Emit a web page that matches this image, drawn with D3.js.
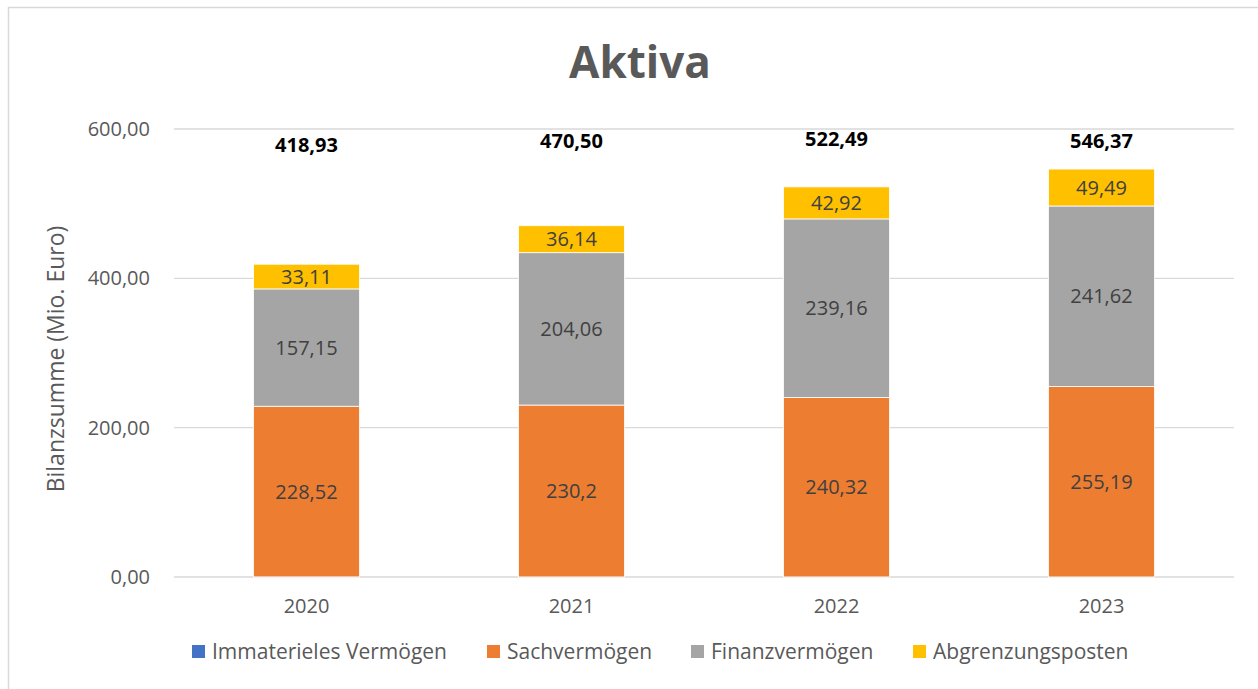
<!DOCTYPE html>
<html>
<head>
<meta charset="utf-8">
<script src="https://cdn.jsdelivr.net/npm/d3@7"></script>
<style>
  body { margin: 0; background: #fff; overflow: hidden; }
  text { font-family: "Open Sans", "Noto Sans", sans-serif; }
</style>
</head>
<body>
<script>
// categories and series
var years = ["2020", "2021", "2022", "2023"];
var seriesNames = ["Immaterieles Vermögen", "Sachvermögen", "Finanzvermögen", "Abgrenzungsposten"];
var immateriell = [0.15, 0.10, 0.09, 0.07];
var sachvermoegen = [228.52, 230.2, 240.32, 255.19];
var finanzvermoegen = [157.15, 204.06, 239.16, 241.62];
var abgrenzung = [33.11, 36.14, 42.92, 49.49];
var totals = [418.93, 470.50, 522.49, 546.37];
var sachLabels = ["228,52", "230,2", "240,32", "255,19"];
var finanzLabels = ["157,15", "204,06", "239,16", "241,62"];
var abgrLabels = ["33,11", "36,14", "42,92", "49,49"];
var totalLabels = ["418,93", "470,50", "522,49", "546,37"];
var totalLabelPos = [579, 584, 587, 584];
var yTicks = [0, 200, 400, 600];
var colors = ["#4472C4", "#ED7D31", "#A5A5A5", "#FFC000"];

var W = 1258, H = 689;
var margin = {top: 129, right: 24, bottom: 112, left: 174};
var width = W - margin.left - margin.right;
var height = H - margin.top - margin.bottom;

var svg = d3.select("body").append("svg")
  .attr("width", W)
  .attr("height", H);

// chart frame (runs off the right and bottom edge)
svg.append("rect")
  .attr("x", 8.5).attr("y", 7.5)
  .attr("width", W + 20).attr("height", H + 20)
  .attr("fill", "#fff")
  .attr("stroke", "#d9d9d9")
  .attr("stroke-width", 1.5);

var g = svg.append("g")
  .attr("transform", "translate(" + margin.left + "," + margin.top + ")");

var x = d3.scaleBand().domain(years).range([0, width]).paddingInner(0.6).paddingOuter(0.3);
var y = d3.scaleLinear().domain([0, 600]).range([height, 0]);

// gridlines
g.selectAll(".grid").data(yTicks).enter().append("line")
  .attr("x1", 0).attr("x2", width)
  .attr("y1", function(d) { return y(d); })
  .attr("y2", function(d) { return y(d); })
  .attr("stroke", "#d9d9d9")
  .attr("stroke-width", 1.3);

// y axis labels
var yAxis = d3.axisLeft(y).tickValues(yTicks).tickSize(0).tickPadding(24)
  .tickFormat(function(d) { return d3.format(".2f")(d).replace(".", ","); });
var ya = g.append("g").call(yAxis);
ya.select(".domain").remove();
ya.selectAll("text").attr("fill", "#595959").style("font-size", "20px")
  .style("font-family", "'Open Sans', sans-serif");

// x axis labels
var xAxis = d3.axisBottom(x).tickSize(0).tickPadding(22);
var xa = g.append("g").attr("transform", "translate(0," + height + ")").call(xAxis);
xa.select(".domain").remove();
xa.selectAll("text").attr("fill", "#595959").style("font-size", "20px")
  .style("font-family", "'Open Sans', sans-serif");

// stacked data
var rows = years.map(function(yr, i) {
  return {year: yr, s0: immateriell[i], s1: sachvermoegen[i], s2: finanzvermoegen[i], s3: abgrenzung[i]};
});
var stack = d3.stack().keys(["s0", "s1", "s2", "s3"])(rows);

var layers = g.selectAll(".layer").data(stack).enter().append("g")
  .attr("fill", function(d, i) { return colors[i]; });

layers.selectAll("rect").data(function(d) { return d; }).enter().append("rect")
  .attr("x", function(d) { return x(d.data.year); })
  .attr("width", x.bandwidth())
  .attr("y", function(d) { return y(d[1]); })
  .attr("height", function(d) { return y(d[0]) - y(d[1]); })
  .attr("stroke", "#fff")
  .attr("stroke-width", 0.8);

// segment labels
var labelSets = [null, sachLabels, finanzLabels, abgrLabels];
stack.forEach(function(layer, li) {
  if (!labelSets[li]) return;
  g.selectAll(".lbl" + li).data(layer).enter().append("text")
    .attr("x", function(d) { return x(d.data.year) + x.bandwidth() / 2; })
    .attr("y", function(d) { return (y(d[0]) + y(d[1])) / 2; })
    .attr("dy", "0.35em")
    .attr("text-anchor", "middle")
    .attr("fill", "#404040")
    .style("font-size", "20px")
    .text(function(d, i) { return labelSets[li][i]; });
});

// totals above bars
g.selectAll(".total").data(totals).enter().append("text")
  .attr("x", function(d, i) { return x(years[i]) + x.bandwidth() / 2; })
  .attr("y", function(d, i) { return y(totalLabelPos[i]); })
  .attr("dy", "0.35em")
  .attr("text-anchor", "middle")
  .attr("fill", "#000")
  .style("font-size", "20px")
  .style("font-weight", "bold")
  .text(function(d, i) { return totalLabels[i]; });

// title
svg.append("text")
  .attr("x", 640)
  .attr("y", 78)
  .attr("text-anchor", "middle")
  .attr("fill", "#595959")
  .style("font-size", "44px")
  .style("font-weight", "bold")
  .text("Aktiva");

// y axis title
svg.append("text")
  .attr("transform", "translate(64," + 359 + ") rotate(-90)")
  .attr("text-anchor", "middle")
  .attr("fill", "#595959")
  .style("font-size", "23px")
  .text("Bilanzsumme (Mio. Euro)");

// legend
var legendX = [192, 487, 691, 913];
var legend = svg.append("g").attr("transform", "translate(0,651)");
seriesNames.forEach(function(name, i) {
  legend.append("rect")
    .attr("x", legendX[i]).attr("y", -6)
    .attr("width", 13).attr("height", 13)
    .attr("fill", colors[i]);
  legend.append("text")
    .attr("x", legendX[i] + 20).attr("y", 1)
    .attr("dy", "0.35em")
    .attr("fill", "#595959")
    .style("font-size", "21px")
    .text(name);
});
</script>
</body>
</html>
